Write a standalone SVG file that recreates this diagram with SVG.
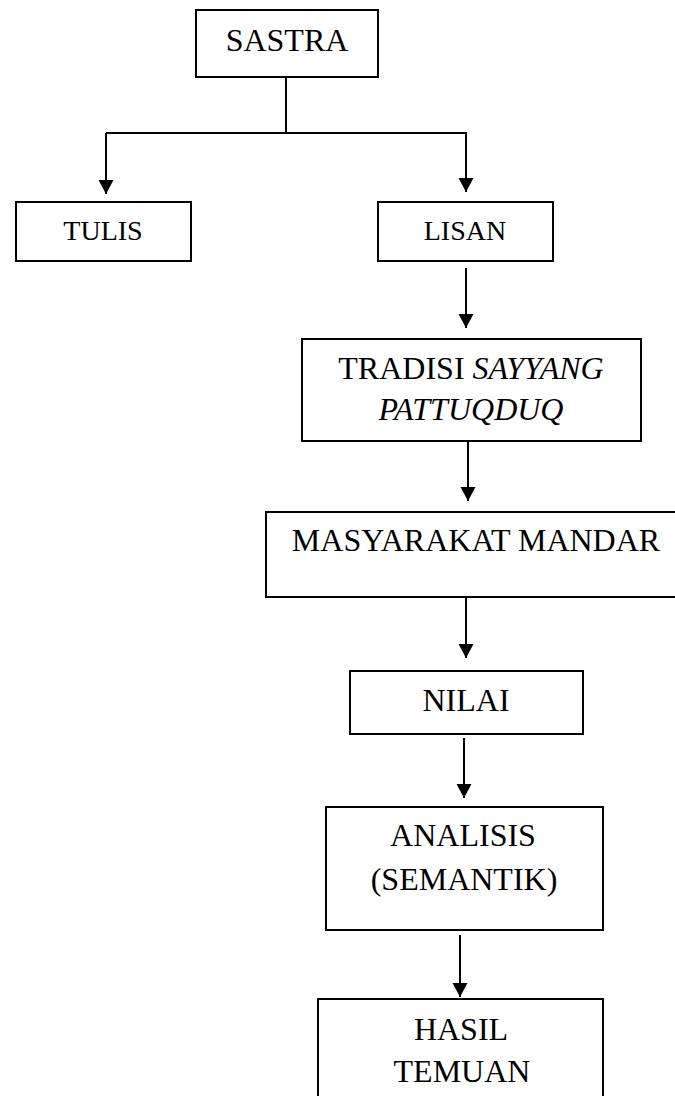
<svg xmlns="http://www.w3.org/2000/svg" width="675" height="1096" viewBox="0 0 675 1096">
<style>
.box{fill:#fff;stroke:#000;stroke-width:2}
.t{font-family:"Liberation Serif","Times New Roman",serif;font-size:32px;fill:#000;text-anchor:middle}
.s{font-size:28px}
.i{font-style:italic}
.ln{fill:none;stroke:#000;stroke-width:2}
.ar{fill:none;stroke:#000;stroke-width:2;marker-end:url(#ah)}
</style>
<defs>
<marker id="ah" markerUnits="userSpaceOnUse" markerWidth="16" markerHeight="16" refX="14" refY="7.5" orient="auto">
<path d="M0,0 L14,7.5 L0,15 Z" fill="#000"/>
</marker>
</defs>
<rect width="675" height="1096" fill="#fff"/>
<g id="connectors">
<path class="ln" d="M286,77 V133"/>
<path class="ln" d="M106,133 H467"/>
<path class="ar" d="M106,133 V194"/>
<path class="ar" d="M466,133 V192"/>
<path class="ar" d="M466,268 V328"/>
<path class="ar" d="M468,441 V501"/>
<path class="ar" d="M466,597 V658"/>
<path class="ar" d="M464,738 V798"/>
<path class="ar" d="M460,935 V997"/>
</g>
<g id="sastra">
<rect class="box" x="196" y="10" width="182" height="67"/>
<text class="t" x="287" y="51">SASTRA</text>
</g>
<g id="tulis">
<rect class="box" x="16" y="202" width="175" height="59"/>
<text class="t s" x="103" y="240">TULIS</text>
</g>
<g id="lisan">
<rect class="box" x="378" y="202" width="175" height="59"/>
<text class="t s" x="465" y="240">LISAN</text>
</g>
<g id="tradisi">
<rect class="box" x="302" y="339" width="339" height="102"/>
<text class="t" x="471" y="379">TRADISI <tspan class="i">SAYYANG</tspan></text>
<text class="t i" x="471" y="420">PATTUQDUQ</text>
</g>
<g id="masyarakat">
<rect class="box" x="266" y="512" width="420" height="85"/>
<text class="t" x="476" y="551">MASYARAKAT MANDAR</text>
</g>
<g id="nilai">
<rect class="box" x="350" y="671" width="233" height="63"/>
<text class="t" x="466" y="711">NILAI</text>
</g>
<g id="analisis">
<rect class="box" x="326" y="807" width="277" height="123"/>
<text class="t" x="463" y="846">ANALISIS</text>
<text class="t" x="464" y="890">(SEMANTIK)</text>
</g>
<g id="hasil">
<rect class="box" x="318" y="999" width="285" height="110"/>
<text class="t" x="461" y="1040">HASIL</text>
<text class="t" x="462" y="1082">TEMUAN</text>
</g>
</svg>
